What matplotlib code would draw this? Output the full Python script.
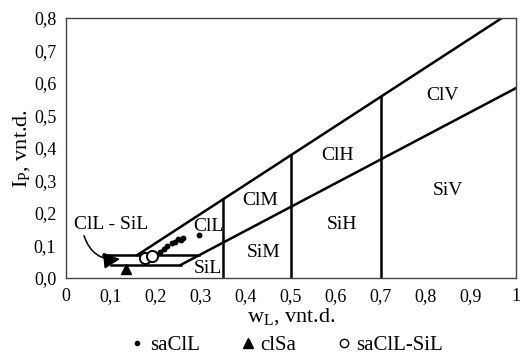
import matplotlib.pyplot as plt
from matplotlib.lines import Line2D

plt.rcParams['font.family'] = ['Liberation Serif', 'DejaVu Serif']
plt.rcParams['mathtext.fontset'] = 'custom'
plt.rcParams['mathtext.rm'] = 'Liberation Serif'
plt.rcParams['mathtext.it'] = 'Liberation Serif'

# boundary lines of the plasticity chart
u_line_x = [0.158, 0.969]
u_line_y = [0.07, 0.8]
a_line_x = [0.255, 1.0]
a_line_y = [0.04, 0.584]
upper_h_x = [0.082, 0.296]
upper_h_y = [0.07, 0.07]
lower_h_x = [0.10, 0.255]
lower_h_y = [0.04, 0.04]
vert_x = [0.35, 0.5, 0.7]
vert_top = [0.243, 0.378, 0.558]

# zone names
zone_names = ['ClL', 'SiL', 'ClM', 'SiM', 'ClH', 'SiH', 'ClV', 'SiV']
zone_x = [0.316, 0.315, 0.432, 0.439, 0.603, 0.614, 0.837, 0.85]
zone_y = [0.157, 0.03, 0.239, 0.077, 0.377, 0.163, 0.56, 0.27]

# samples
saclL_wl = [0.198, 0.208, 0.217, 0.224, 0.235, 0.243, 0.248, 0.255, 0.261, 0.295]
saclL_ip = [0.073, 0.081, 0.089, 0.099, 0.106, 0.111, 0.120, 0.117, 0.124, 0.132]
clsa_wl = [0.134]
clsa_ip = [0.028]
mixed_wl = [0.176, 0.19]
mixed_ip = [0.060, 0.066]

fig = plt.figure(figsize=(5.2, 3.6), dpi=100)
ax = fig.add_axes([0.127, 0.228, 0.865, 0.722])

lw = 1.8
ax.plot(u_line_x, u_line_y, color='black', lw=lw)
ax.plot(a_line_x, a_line_y, color='black', lw=lw)
ax.plot(upper_h_x, upper_h_y, color='black', lw=lw)
ax.plot(lower_h_x, lower_h_y, color='black', lw=lw)
for x, top in zip(vert_x, vert_top):
    ax.plot([x, x], [0, top], color='black', lw=lw)

for name, x, y in zip(zone_names, zone_x, zone_y):
    ax.text(x, y, name, fontsize=14, ha='center', va='center')

ax.plot(saclL_wl, saclL_ip, 'o', color='black', ms=3.2, ls='none')
ax.plot(clsa_wl, clsa_ip, '^', color='black', ms=7, ls='none')
ax.plot(mixed_wl, mixed_ip, 'o', mfc='white', mec='black', mew=1.4, ms=8, ls='none')

# curved pointer from the label to the ClL - SiL zone
ax.text(0.1, 0.163, 'ClL - SiL', fontsize=14, ha='center', va='center')
ax.annotate('', xy=(0.12, 0.058), xytext=(0.04, 0.13),
            arrowprops=dict(arrowstyle='-|>,head_length=1.0,head_width=0.5',
                            color='black', lw=1.1,
                            connectionstyle='arc3,rad=0.4',
                            shrinkA=0, shrinkB=0))

ax.set_xlim(0, 1)
ax.set_ylim(0, 0.8)
xt = [0, 0.1, 0.2, 0.3, 0.4, 0.5, 0.6, 0.7, 0.8, 0.9, 1]
yt = [0, 0.1, 0.2, 0.3, 0.4, 0.5, 0.6, 0.7, 0.8]
ax.set_xticks(xt)
ax.set_xticklabels(['0'] + [f'{v:.1f}'.replace('.', ',') for v in xt[1:-1]] + ['1'])
ax.set_yticks(yt)
ax.set_yticklabels([f'{v:.1f}'.replace('.', ',') for v in yt])
ax.tick_params(length=0, labelsize=13, pad=7)
for s in ax.spines.values():
    s.set_color('#444444')
    s.set_linewidth(1.0)

ax.set_xlabel(r'w$_\mathrm{L}$, vnt.d.', fontsize=16, labelpad=1)
ax.set_ylabel(r'I$_\mathrm{P}$, vnt.d.', fontsize=16, labelpad=1)

handles = [
    Line2D([], [], marker='o', color='black', ms=3, ls='none'),
    Line2D([], [], marker='^', color='black', ms=7, ls='none'),
    Line2D([], [], marker='o', mfc='white', mec='black', ms=6, ls='none'),
]
fig.legend(handles, ['saClL', 'clSa', 'saClL-SiL'], loc='center',
           bbox_to_anchor=(0.548, 0.04), ncol=3, frameon=False, fontsize=15,
           handletextpad=0.1, columnspacing=1.8, handlelength=1.0,
           borderpad=0, borderaxespad=0)

fig.savefig('out.png', dpi=100)
